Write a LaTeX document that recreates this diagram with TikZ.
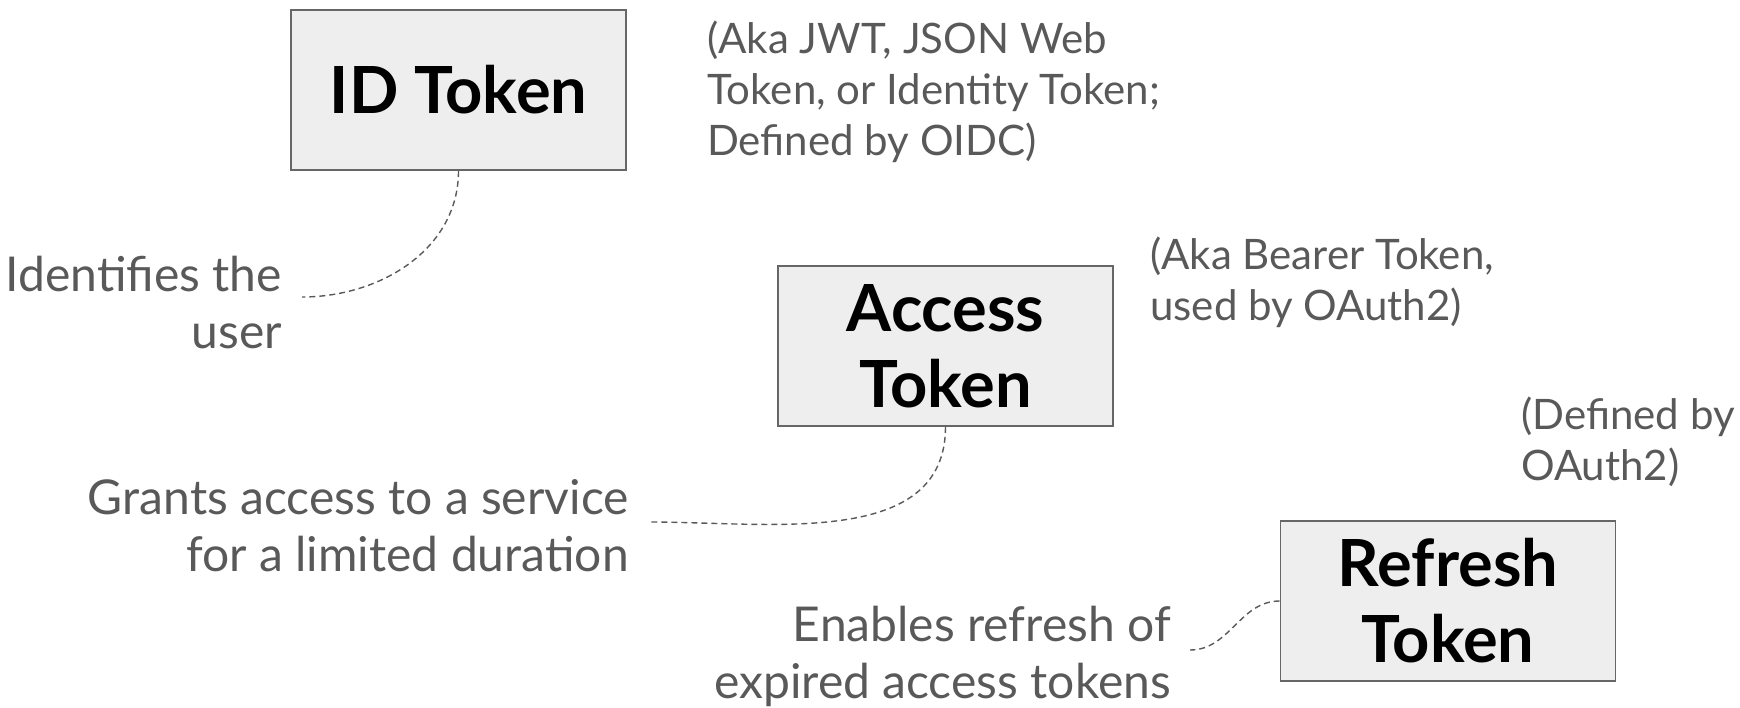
\documentclass[tikz,border=0pt]{standalone}
\usepackage{fontspec}
\setmainfont{Lato}
\definecolor{txtgray}{HTML}{595959}
\definecolor{boxfill}{HTML}{EEEEEE}
\definecolor{boxline}{HTML}{666666}
\begin{document}
\begin{tikzpicture}[x=1pt,y=-1pt,
  tokenbox/.style={draw=boxline, fill=boxfill, line width=1.6pt, minimum width=335pt, minimum height=160pt, inner sep=0pt, align=center, font=\fontsize{65}{76}\selectfont\bfseries, text=black},
  desc/.style={anchor=east, align=right, inner sep=0pt, text=txtgray, font=\fontsize{48}{57}\selectfont},
  note/.style={anchor=west, align=left, inner sep=0pt, text=txtgray, font=\fontsize{42}{51}\selectfont},
  conn/.style={draw=txtgray, line width=1.4pt, dash pattern=on 6pt off 4pt}]
\useasboundingbox (0,0) rectangle (1740,708);
\node[tokenbox] (id) at (458.5,90) {ID Token};
\node[tokenbox] (access) at (945.5,346) {Access\\Token};
\node[tokenbox] (refresh) at (1448,601) {Refresh\\Token};
\node[note] (idn) at (707,92) {(Aka JWT, JSON Web\\Token, or Identity Token;\\Defined by OIDC)};
\node[note] (accn) at (1150,282) {(Aka Bearer Token,\\used by OAuth2)};
\node[note] (refn) at (1521,442) {(Defined by\\OAuth2)};
\node[desc] (idd) at (282,303) {Identifies the\\user};
\node[desc] (accd) at (629,526) {Grants access to a service\\for a limited duration};
\node[desc] (refd) at (1171,656) {Enables refresh of\\expired access tokens};
\coordinate (idend) at (302,297);
\coordinate (accend) at (649,522);
\coordinate (refend) at (1190,650);
\draw[conn] (id.south) to[out=-90,in=0] (idend);
\draw[conn] (access.south) to[out=-90,in=0] (accend);
\draw[conn] (refresh.west) to[out=180,in=0] (refend);
\end{tikzpicture}
\end{document}
